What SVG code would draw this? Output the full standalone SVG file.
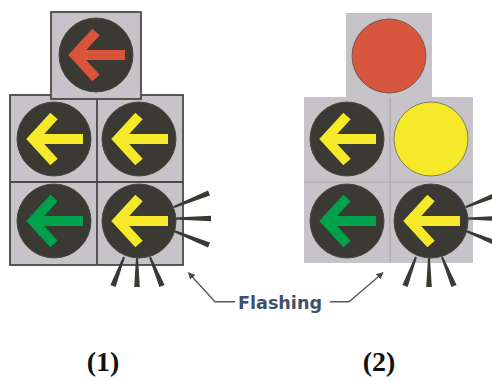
<svg xmlns="http://www.w3.org/2000/svg" xmlns:xlink="http://www.w3.org/1999/xlink" width="492" height="381" viewBox="0 0 492 381">
<style>
.box{fill:#c6c4c9}
.b1{stroke:#4a4946;stroke-width:1.8}
.div2{stroke:#a9a7ad;stroke-width:1.2}
.lens{fill:#3b3934;stroke:#4a4844;stroke-width:1}
.arw{fill:none;stroke-width:10;stroke-linejoin:miter;stroke-miterlimit:10;stroke-linecap:butt}
.ray{fill:#3b3934}
.lead{fill:none;stroke:#5a5a5a;stroke-width:1.4}
.flash{font-family:"DejaVu Sans",Verdana,sans-serif;font-weight:bold;font-size:18px;fill:#3f506c}
.num{font-family:"Liberation Serif","Times New Roman",serif;font-weight:bold;font-size:28px;fill:#111}
</style>
<defs>
<path id="arrow" class="arw" d="M0,-23 L-21,0 L0,23 M-21,0 H29"/>
<g id="rays">
<polygon class="ray" points="173.6,206.1 208,190.4 210,195.6 174.4,207.9"/>
<polygon class="ray" points="175,217.5 211,215.7 211,221.3 175,219.5"/>
<polygon class="ray" points="174.4,230.1 210,242.4 208,247.6 173.6,231.9"/>
<polygon class="ray" points="123.1,256.6 124.9,257.4 115.6,287 110.4,285"/>
<polygon class="ray" points="136,258 138,258 139.8,287 134.2,287"/>
<polygon class="ray" points="149.1,257.4 150.9,256.6 164.6,284.9 159.4,287.1"/>
</g>
<marker id="ah" viewBox="0 0 10 10" refX="9" refY="5" markerWidth="7" markerHeight="7" orient="auto" markerUnits="userSpaceOnUse">
<path d="M0,0 L10,5 L0,10 z" fill="#4a4a4a"/>
</marker>
</defs>

<g id="signal-1">
<rect class="box b1" x="10" y="95" width="173" height="170"/>
<line class="b1" x1="97" y1="95" x2="97" y2="265"/>
<line class="b1" x1="10" y1="182" x2="183" y2="182"/>
<rect class="box b1" x="51" y="12" width="90" height="87"/>
<circle class="lens" cx="96" cy="55" r="37"/>
<use href="#arrow" x="96" y="55" stroke="#d8553c"/>
<circle class="lens" cx="54" cy="139" r="37"/>
<use href="#arrow" x="54" y="139" stroke="#f6e92a"/>
<circle class="lens" cx="139" cy="139" r="37"/>
<use href="#arrow" x="139" y="139" stroke="#f6e92a"/>
<circle class="lens" cx="54" cy="221" r="37"/>
<use href="#arrow" x="54" y="221" stroke="#00a14b"/>
<circle class="lens" cx="139" cy="221" r="37"/>
<use href="#arrow" x="139" y="221" stroke="#f6e92a"/>
<use href="#rays"/>
</g>

<g id="signal-2">
<rect class="box" x="304" y="97" width="169" height="166"/>
<line class="div2" x1="390" y1="97" x2="390" y2="263"/>
<line class="div2" x1="304" y1="182" x2="473" y2="182"/>
<rect class="box" x="346" y="13" width="86" height="84"/>
<circle cx="389" cy="56" r="37" fill="#d6573e" stroke="#6a4a40" stroke-width="0.8"/>
<circle class="lens" cx="347" cy="139" r="37"/>
<use href="#arrow" x="347" y="139" stroke="#f6e92a"/>
<circle cx="431" cy="139" r="37" fill="#f6e92a" stroke="#6a6650" stroke-width="0.8"/>
<circle class="lens" cx="347" cy="221" r="37"/>
<use href="#arrow" x="347" y="221" stroke="#00a14b"/>
<circle class="lens" cx="431" cy="221" r="37"/>
<use href="#arrow" x="431" y="221" stroke="#f6e92a"/>
<use href="#rays" transform="translate(292,0)"/>
</g>

<g id="connectors">
<polyline class="lead" points="235,301.7 215,301.7 188.5,272.7" marker-end="url(#ah)"/>
<polyline class="lead" points="330,301.7 349,301.7 383,272.7" marker-end="url(#ah)"/>
</g>

<g id="label-flashing">
<text class="flash" x="238" y="309" textLength="84" lengthAdjust="spacingAndGlyphs">Flashing</text>
</g>
<g id="label-1">
<text class="num" x="103" y="371" text-anchor="middle">(1)</text>
</g>
<g id="label-2">
<text class="num" x="379" y="371" text-anchor="middle">(2)</text>
</g>
</svg>
